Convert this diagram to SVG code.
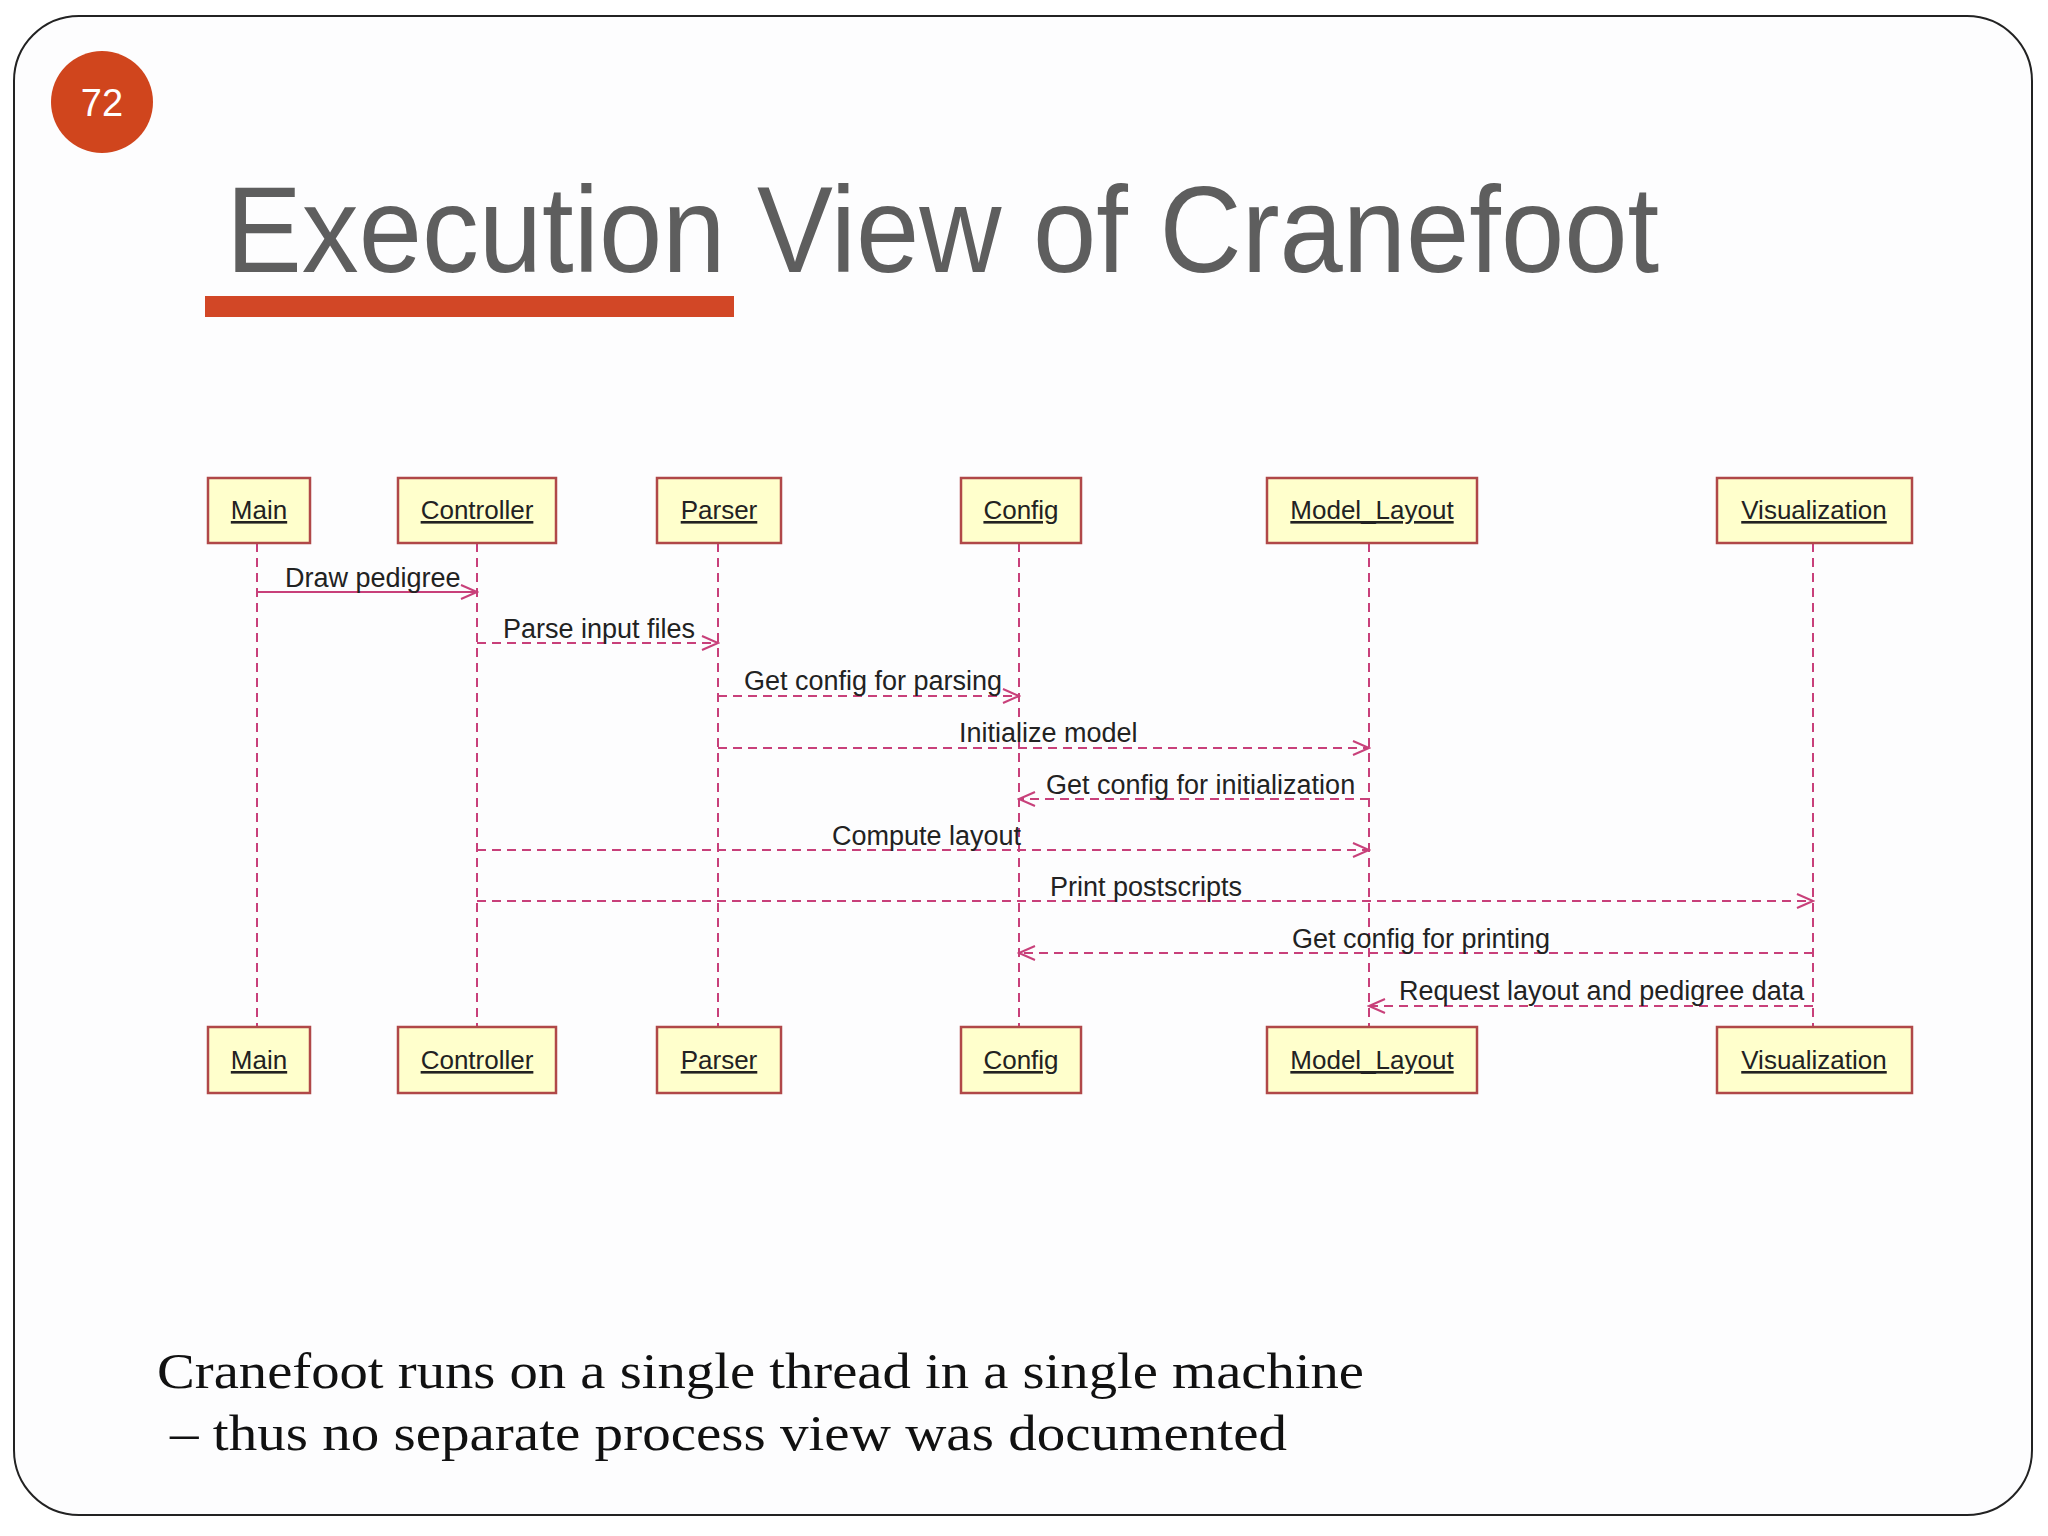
<svg xmlns="http://www.w3.org/2000/svg" width="2048" height="1536" viewBox="0 0 2048 1536">
<style>
.box{fill:#ffffcc;stroke:#b04848;stroke-width:2.5}
.bl{font-family:"Liberation Sans",Arial,sans-serif;font-size:26px;fill:#222;text-anchor:middle;text-decoration:underline}
.life{stroke:#c8407a;stroke-width:2;stroke-dasharray:9 6;fill:none}
.msg{stroke:#c8407a;stroke-width:2;fill:none}
.d{stroke-dasharray:9 6}
.ml{font-family:"Liberation Sans",Arial,sans-serif;font-size:27px;fill:#222}
</style>
<defs>
<marker id="a" viewBox="0 0 20 20" refX="18" refY="10" markerWidth="20" markerHeight="20" markerUnits="userSpaceOnUse" orient="auto">
<path d="M2 3 L18 10 L2 17" fill="none" stroke="#c8407a" stroke-width="2"/>
</marker>
</defs>
<rect x="0" y="0" width="2048" height="1536" fill="#ffffff"/>
<rect x="14" y="16" width="2018" height="1499" rx="65" fill="#fdfdfe" stroke="#222" stroke-width="2"/>
<g id="badge"><circle cx="102" cy="102" r="51" fill="#d0451d"/><text x="102" y="116" font-family="Liberation Sans,Arial,sans-serif" font-size="38" fill="#fff" text-anchor="middle">72</text></g>
<g id="title"><text x="226" y="272" font-family="Liberation Sans,Arial,sans-serif" font-size="122" fill="#5e5e5e" textLength="1433" lengthAdjust="spacingAndGlyphs">Execution View of Cranefoot</text>
<rect x="205" y="296" width="529" height="21" fill="#d24726"/></g>
<g id="lifelines">
<line class="life" x1="257" y1="543" x2="257" y2="1027"/>
<line class="life" x1="477" y1="543" x2="477" y2="1027"/>
<line class="life" x1="718" y1="543" x2="718" y2="1027"/>
<line class="life" x1="1019" y1="543" x2="1019" y2="1027"/>
<line class="life" x1="1369" y1="543" x2="1369" y2="1027"/>
<line class="life" x1="1813" y1="543" x2="1813" y2="1027"/>
</g>
<g id="n-main"><rect class="box" x="208" y="478" width="102" height="65"/><text class="bl" x="259" y="519">Main</text><rect class="box" x="208" y="1027" width="102" height="66"/><text class="bl" x="259" y="1069">Main</text></g>
<g id="n-controller"><rect class="box" x="398" y="478" width="158" height="65"/><text class="bl" x="477" y="519">Controller</text><rect class="box" x="398" y="1027" width="158" height="66"/><text class="bl" x="477" y="1069">Controller</text></g>
<g id="n-parser"><rect class="box" x="657" y="478" width="124" height="65"/><text class="bl" x="719" y="519">Parser</text><rect class="box" x="657" y="1027" width="124" height="66"/><text class="bl" x="719" y="1069">Parser</text></g>
<g id="n-config"><rect class="box" x="961" y="478" width="120" height="65"/><text class="bl" x="1021" y="519">Config</text><rect class="box" x="961" y="1027" width="120" height="66"/><text class="bl" x="1021" y="1069">Config</text></g>
<g id="n-model"><rect class="box" x="1267" y="478" width="210" height="65"/><text class="bl" x="1372" y="519">Model_Layout</text><rect class="box" x="1267" y="1027" width="210" height="66"/><text class="bl" x="1372" y="1069">Model_Layout</text></g>
<g id="n-vis"><rect class="box" x="1717" y="478" width="195" height="65"/><text class="bl" x="1814" y="519">Visualization</text><rect class="box" x="1717" y="1027" width="195" height="66"/><text class="bl" x="1814" y="1069">Visualization</text></g>
<g id="connectors">
<line class="msg" x1="257" y1="592" x2="477" y2="592" marker-end="url(#a)"/>
<line class="msg d" x1="477" y1="643" x2="718" y2="643" marker-end="url(#a)"/>
<line class="msg d" x1="718" y1="696" x2="1019" y2="696" marker-end="url(#a)"/>
<line class="msg d" x1="718" y1="748" x2="1369" y2="748" marker-end="url(#a)"/>
<line class="msg d" x1="1369" y1="799" x2="1019" y2="799" marker-end="url(#a)"/>
<line class="msg d" x1="477" y1="850" x2="1369" y2="850" marker-end="url(#a)"/>
<line class="msg d" x1="477" y1="901" x2="1813" y2="901" marker-end="url(#a)"/>
<line class="msg d" x1="1813" y1="953" x2="1019" y2="953" marker-end="url(#a)"/>
<line class="msg d" x1="1813" y1="1006" x2="1369" y2="1006" marker-end="url(#a)"/>
<text class="ml" x="285" y="587">Draw pedigree</text>
<text class="ml" x="503" y="638">Parse input files</text>
<text class="ml" x="744" y="690">Get config for parsing</text>
<text class="ml" x="959" y="742">Initialize model</text>
<text class="ml" x="1046" y="794">Get config for initialization</text>
<text class="ml" x="832" y="845">Compute layout</text>
<text class="ml" x="1050" y="896">Print postscripts</text>
<text class="ml" x="1292" y="948">Get config for printing</text>
<text class="ml" x="1399" y="1000">Request layout and pedigree data</text>
</g>
<g id="caption" font-family="Liberation Serif,'Times New Roman',serif" font-size="50" fill="#111">
<text x="157" y="1388" textLength="1207" lengthAdjust="spacingAndGlyphs">Cranefoot runs on a single thread in a single machine</text>
<text x="170" y="1450" textLength="1117" lengthAdjust="spacingAndGlyphs">– thus no separate process view was documented</text>
</g>
</svg>
